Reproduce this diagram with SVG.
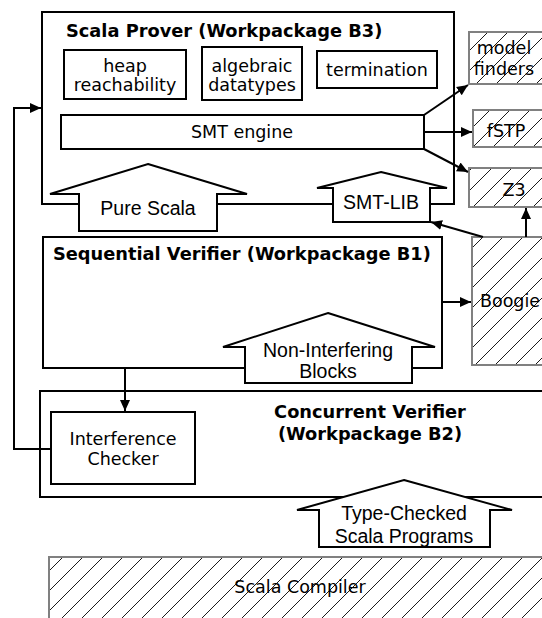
<svg xmlns="http://www.w3.org/2000/svg" width="542" height="618" viewBox="0 0 542 618">
<style>
.box{fill:#fff;stroke:#000;stroke-width:2}
.hatch{fill:url(#hatch);stroke:#808080;stroke-width:2}
.t{font-family:"DejaVu Sans",sans-serif;font-size:17.5px;fill:#000;text-anchor:middle}
.b{font-family:"DejaVu Sans",sans-serif;font-size:17.8px;font-weight:bold;fill:#000}
.a{font-family:"Liberation Sans",Arial,sans-serif;font-size:19.5px;fill:#000;text-anchor:middle}
.c{fill:none;stroke:#000;stroke-width:2}
</style>
<defs>
<pattern id="hatch" patternUnits="userSpaceOnUse" width="20" height="20">
<rect width="20" height="20" fill="#fff"/>
<path d="M-2,22 L22,-2 M-12,12 L12,-12 M8,32 L32,8" stroke="#000" stroke-width="0.9"/>
</pattern>
<marker id="ah" markerUnits="userSpaceOnUse" markerWidth="12" markerHeight="12" viewBox="0 0 12 12" refX="11" refY="6" orient="auto">
<path d="M0,1 L11,6 L0,11 Z" fill="#000"/>
</marker>
</defs>

<g id="scala-prover">
<rect class="box" x="42" y="12" width="412" height="192"/>
<text class="b" x="66" y="37">Scala Prover (Workpackage B3)</text>
</g>
<g id="heap-reachability">
<rect class="box" x="64" y="50" width="122" height="49"/>
<text class="t" x="125" y="72">heap</text>
<text class="t" x="125" y="91">reachability</text>
</g>
<g id="algebraic-datatypes">
<rect class="box" x="202" y="47" width="100" height="53"/>
<text class="t" x="252" y="72">algebraic</text>
<text class="t" x="252" y="91">datatypes</text>
</g>
<g id="termination">
<rect class="box" x="317" y="51" width="120" height="37"/>
<text class="t" x="377" y="76">termination</text>
</g>
<g id="smt-engine">
<rect class="box" x="61" y="115" width="363" height="34"/>
<text class="t" x="242" y="138">SMT engine</text>
</g>

<g id="model-finders">
<rect class="hatch" x="469" y="32" width="90" height="52"/>
<text class="t" x="504" y="54">model</text>
<text class="t" x="504" y="75">finders</text>
</g>
<g id="fstp">
<rect class="hatch" x="473" y="110" width="90" height="37"/>
<text class="t" x="506" y="137">fSTP</text>
</g>
<g id="z3">
<rect class="hatch" x="469" y="168" width="90" height="39"/>
<text class="t" x="514" y="196">Z3</text>
</g>
<g id="boogie">
<rect class="hatch" x="472" y="237" width="90" height="128"/>
<text class="t" x="510" y="307">Boogie</text>
</g>

<g id="sequential-verifier">
<rect class="box" x="43" y="237" width="399" height="131"/>
<text class="b" x="53" y="260">Sequential Verifier (Workpackage B1)</text>
</g>

<g id="concurrent-verifier">
<rect class="box" x="40" y="391" width="520" height="106"/>
<text class="b" x="370" y="418" text-anchor="middle">Concurrent Verifier</text>
<text class="b" x="370" y="440" text-anchor="middle">(Workpackage B2)</text>
</g>
<g id="interference-checker">
<rect class="box" x="51" y="412" width="144" height="72"/>
<text class="t" x="123" y="445">Interference</text>
<text class="t" x="123" y="465">Checker</text>
</g>

<g id="scala-compiler">
<rect class="hatch" x="49" y="557" width="520" height="80"/>
<text class="t" x="300" y="593">Scala Compiler</text>
</g>

<g id="pure-scala">
<polygon class="box" points="148,164 247,194 217,194 217,231 79,231 79,194 50,194"/>
<text class="a" x="148" y="215">Pure Scala</text>
</g>
<g id="smt-lib">
<polygon class="box" points="381,172 447,188 430,188 430,222 333,222 333,188 317,188"/>
<text class="a" x="381" y="209">SMT-LIB</text>
</g>
<g id="non-interfering-blocks">
<polygon class="box" points="328,313 435,347 412,347 412,383 245,383 245,347 223,347"/>
<text class="a" x="328" y="357">Non-Interfering</text>
<text class="a" x="328" y="378">Blocks</text>
</g>
<g id="type-checked">
<polygon class="box" points="404,480 512,510 490,510 490,547 319,547 319,510 297,510"/>
<text class="a" x="404" y="520">Type-Checked</text>
<text class="a" x="404" y="543">Scala Programs</text>
</g>

<g id="connectors">
<line class="c" x1="424" y1="115" x2="468" y2="85" marker-end="url(#ah)"/>
<line class="c" x1="424" y1="132" x2="472" y2="132" marker-end="url(#ah)"/>
<line class="c" x1="424" y1="149" x2="468" y2="172" marker-end="url(#ah)"/>
<line class="c" x1="526" y1="237" x2="526" y2="208" marker-end="url(#ah)"/>
<line class="c" x1="483" y1="237" x2="431" y2="222" marker-end="url(#ah)"/>
<line class="c" x1="442" y1="302" x2="471" y2="302" marker-end="url(#ah)"/>
<line class="c" x1="125" y1="368" x2="125" y2="411" marker-end="url(#ah)"/>
<polyline class="c" points="51,449 14,449 14,108 41,108" marker-end="url(#ah)"/>
</g>
</svg>
